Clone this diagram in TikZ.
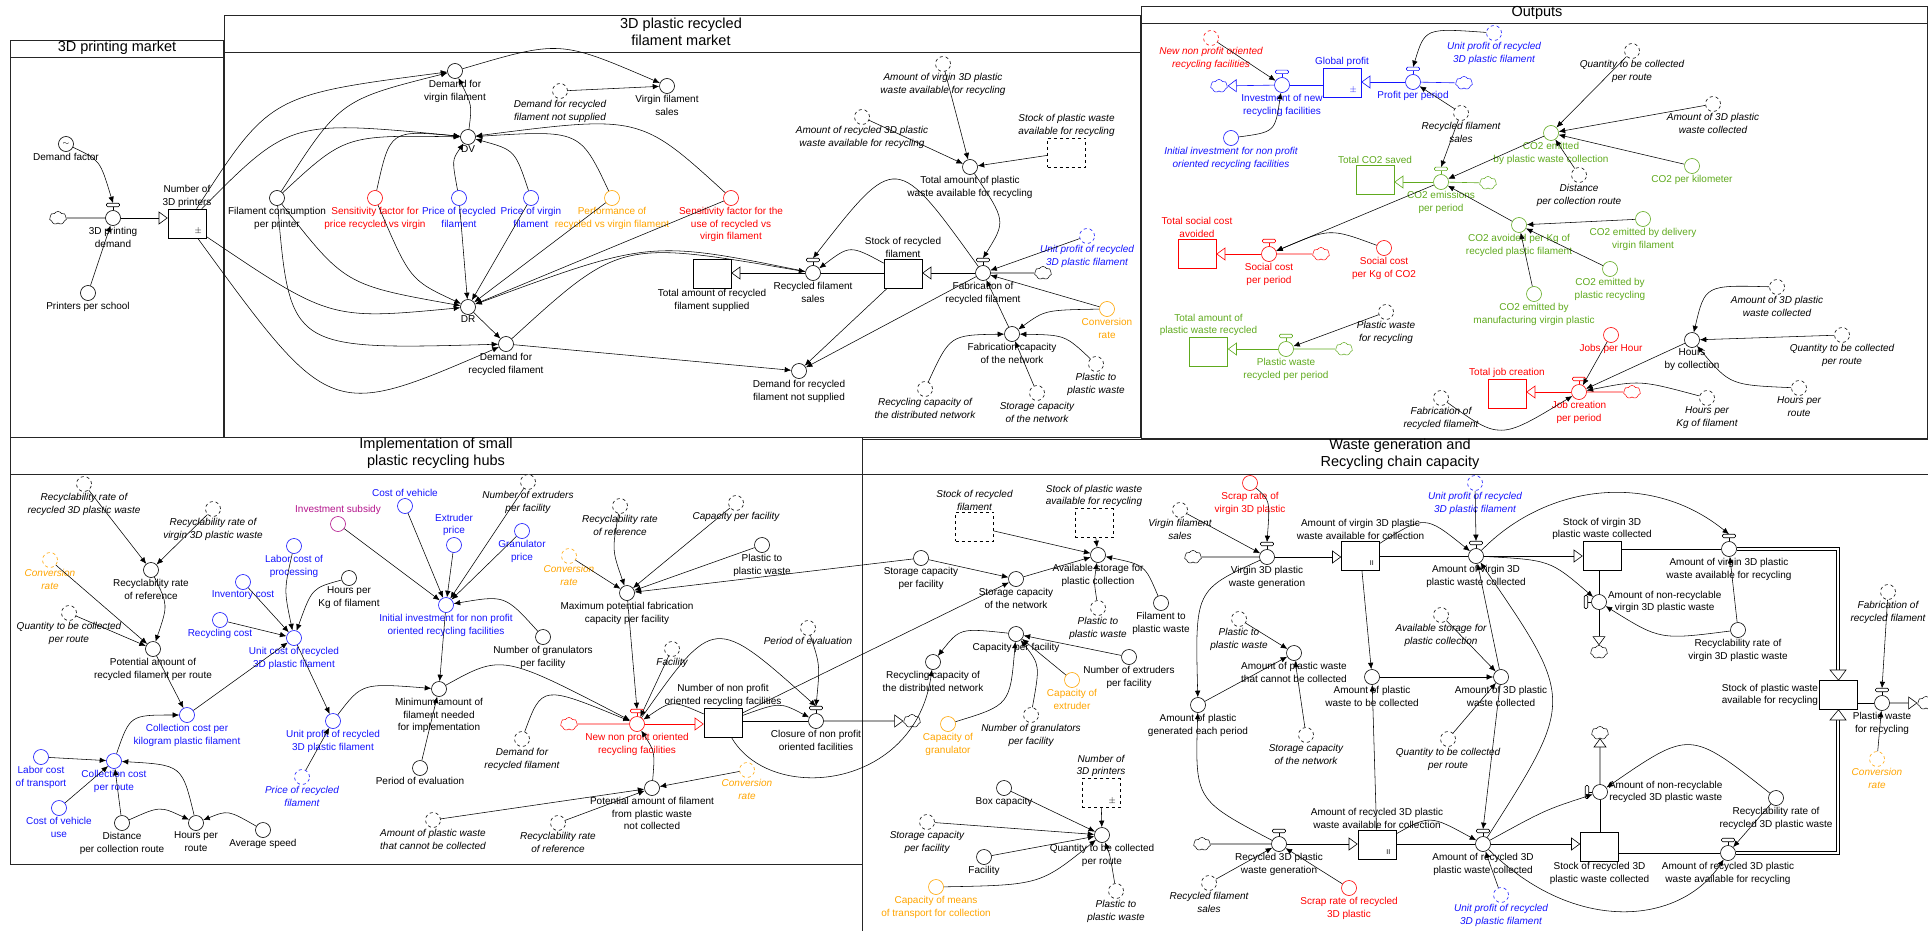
\documentclass[tikz,border=0pt]{standalone}
\usepackage{fontspec}
\setmainfont{Liberation Sans}
\usetikzlibrary{arrows.meta,shapes.symbols,calc}
\definecolor{myred}{RGB}{255,0,0}
\definecolor{myblue}{RGB}{20,20,255}
\definecolor{mygreen}{RGB}{96,170,30}
\definecolor{myorange}{RGB}{255,165,0}
\definecolor{mypurple}{RGB}{180,20,140}
\newcommand\lbl{\fontsize{10}{12.8}\selectfont}
\newcommand\ttl{\fontsize{14.5}{17.5}\selectfont}
\tikzset{
 aux/.style={circle,draw,minimum size=15pt,inner sep=0pt,line width=0.6pt,fill=white},
 lb/.style={align=center,font=\lbl,inner sep=1pt},
 lbi/.style={lb,font=\lbl\itshape},
 lk/.style={line width=0.55pt,-{Latex[length=6.5pt,width=5.5pt]}},
 pp/.style={line width=0.6pt,-{Triangle[length=9pt,width=13pt,fill=white]}},
 stk/.style={rectangle,draw,minimum width=38pt,minimum height=29pt,inner sep=0pt,line width=0.6pt,fill=white},
 cl/.style={cloud,cloud puffs=7,cloud puff arc=120,aspect=1.3,draw,minimum width=17pt,minimum height=13pt,inner sep=0pt,line width=0.5pt,fill=white},
 frame/.style={line width=0.8pt,draw=black!85}
}
\newcommand\VA[5]{\node[aux,draw=#1,label={[lb,text=#1]#5:{#4}}] (#2) at (#3) {};}
\newcommand\VG[5]{\node[aux,draw=#1,dashed,label={[lbi,text=#1]#5:{#4}}] (#2) at (#3) {};}
\newcommand\VV[5]{\node[aux,draw=#1,label={[lb,text=#1]#5:{#4}}] (#2) at (#3) {};
 \draw[#1,line width=0.6pt] (#2.north) -- ++(0,-3.5);
 \draw[#1,line width=0.6pt,fill=white,rounded corners=1.2pt] ($(#2.north)+(-6.5,-3.5)$) rectangle ($(#2.north)+(6.5,-7)$);
 \coordinate (#2t) at ($(#2.north)+(0,-7)$);}
\newcommand\VR[5]{\node[aux,draw=#1,label={[lb,text=#1]#5:{#4}}] (#2) at (#3) {};
 \draw[#1,line width=0.6pt] (#2.west) -- ++(-3.5,0);
 \draw[#1,line width=0.6pt,fill=white,rounded corners=1.2pt] ($(#2.west)+(-3.5,-6.5)$) rectangle ($(#2.west)+(-7,6.5)$);}
\newcommand\VS[5]{\node[stk,draw=#1,label={[lb,text=#1]#5:{#4}}] (#2) at (#3) {};}
\newcommand\VSG[5]{\node[stk,draw=#1,dashed,label={[lbi,text=#1]#5:{#4}}] (#2) at (#3) {};}
\newcommand\VC[3]{\node[cl,draw=#1] (#2) at (#3) {};}
\begin{document}
\begin{tikzpicture}[x=1pt,y=-1pt]
\fill[white] (0,0) rectangle (1928,931);
\useasboundingbox (0,0) rectangle (1928,931);
% ---------- frames ----------
\draw[frame] (10.7,40.7) rectangle (223,437); \draw[frame] (10.7,57.7) -- (223,57.7);
\node[font=\ttl] at (117,48) {3D printing market};
\draw[frame] (224,15.7) rectangle (1140,437); \draw[frame] (224,52) -- (1140,52);
\node[font=\ttl,align=center] at (681,32) {3D plastic recycled\\filament market};
\draw[frame] (1141,6) rectangle (1927,438); \draw[frame] (1141,23) -- (1927,23);
\node[font=\ttl] at (1537,13) {Outputs};
\draw[frame] (10.7,437.5) rectangle (862,864); \draw[frame] (10.7,474) -- (862,474);
\node[font=\ttl,align=center] at (436,453) {Implementation of small\\plastic recycling hubs};
\draw[frame] (862,931) -- (862,439) -- (1928,439); \draw[frame] (862,474) -- (1928,474);
\node[font=\ttl,align=center] at (1400,454) {Waste generation and\\Recycling chain capacity};
% ---------- Panel 1 ----------
\node[aux,label={[lb]below:Demand factor}] (df) at (66,144) {\fontsize{8}{8}\selectfont$\sim$};
\VC{black}{c1}{58,218}
\VV{black}{v1}{113,218}{3D printing\\demand}{below}
\VS{black}{s1}{187,223.5}{Number of\\3D printers}{above}
\node[font=\small] at ($(s1.south east)+(-8,-7)$) {$\pm$};
\VA{black}{pps}{88,293}{Printers per school}{below}
\draw[lk] (df) .. controls (100,160) .. (v1t);
\draw[lk] (pps) -- (v1);
\draw[line width=0.6pt] (c1) -- (v1); \draw[pp] (v1) -- (v1 -| s1.west);
% ---------- Panel 2 ----------
\VA{black}{dvf}{455,71}{Demand for\\virgin filament}{below}
\VA{black}{dv}{468,137}{DV}{below}
\VA{black}{dr}{468,307}{DR}{below}
\VA{black}{drf}{506,344}{Demand for\\recycled filament}{below}
\VG{black}{drns}{560,91}{Demand for recycled\\filament not supplied}{below}
\VA{black}{vfs}{667,86}{Virgin filament\\sales}{below}
\VA{black}{fcp}{277,198}{Filament consumption\\per printer}{below}
\VA{myred}{sfp}{375,198}{Sensitivity factor for\\price recycled vs virgin}{below}
\VA{myblue}{prf}{459,198}{Price of recycled\\filament}{below}
\VA{myblue}{pvf}{531,198}{Price of virgin\\filament}{below}
\VA{myorange}{perf}{612,198}{Performance of\\recycled vs virgin filament}{below}
\VA{myred}{sfu}{731,198}{Sensitivity factor for the\\use of recycled vs\\virgin filament}{below}
\VS{black}{tas}{712,273.5}{Total amount of recycled\\filament supplied}{below}
\VV{black}{rfs}{813,273}{Recycled filament\\sales}{below}
\VS{black}{sor}{903,273.5}{Stock of recycled\\filament}{above}
\VV{black}{fab}{983,273}{Fabrication of\\recycled filament}{below}
\VC{black}{c2}{1043,273}
\VA{black}{ta}{970,167}{Total amount of plastic\\waste available for recycling}{below}
\VG{black}{avw}{943,64}{Amount of virgin 3D plastic\\waste available for recycling}{below}
\VG{black}{arw}{862,117}{Amount of recycled 3D plastic\\waste available for recycling}{below}
\VSG{black}{spw}{1066.5,152.5}{Stock of plastic waste\\available for recycling}{above}
\VG{myblue}{up1}{1087,236}{Unit profit of recycled\\3D plastic filament}{below}
\VA{myorange}{cr1}{1107,309}{Conversion\\rate}{below}
\VA{black}{fcn}{1012,334}{Fabrication capacity\\of the network}{below}
\VG{black}{rcd}{925,389}{Recycling capacity of\\the distributed network}{below}
\VG{black}{scn}{1037,393}{Storage capacity\\of the network}{below}
\VG{black}{ppw1}{1096,364}{Plastic to\\plastic waste}{below}
\VA{black}{drns2}{799,371}{Demand for recycled\\filament not supplied}{below}
\draw[lk] (s1) .. controls (270,95) .. (dvf);
\draw[lk] (s1) .. controls (290,120) .. (dv);
\draw[lk] (s1) .. controls (330,320) .. (dr);
\draw[lk] (s1) .. controls (330,420) .. (drf);
\draw[lk] (fcp) .. controls (340,100) .. (dvf);
\draw[lk] (fcp) .. controls (345,135) .. (dv);
\draw[lk] (fcp) .. controls (345,285) .. (dr);
\draw[lk] (fcp) .. controls (290,350) .. (drf);
\draw[lk] (sfp) .. controls (390,130) .. (dv);
\draw[lk] (sfp) .. controls (410,280) .. (dr);
\draw[lk] (prf) .. controls (452,160) .. (dv);
\draw[lk] (prf) -- (dr);
\draw[lk] (pvf) .. controls (515,150) .. (dv);
\draw[lk] (pvf) -- (dr);
\draw[lk] (perf) .. controls (580,130) .. (dv);
\draw[lk] (perf) -- (dr);
\draw[lk] (sfu) .. controls (640,115) .. (dv);
\draw[lk] (sfu) -- (dr);
\draw[lk] (dv) .. controls (472,105) .. (dvf);
\draw[lk] (dr) -- (drf);
\draw[lk] (dvf) .. controls (560,40) .. (vfs);
\draw[lk] (drns) -- (vfs);
\draw[lk] (drf) .. controls (620,240) .. (rfs);
\draw[lk] (rfs) .. controls (650,240) .. (dr);
\draw[lk] (drf) -- (drns2);
\draw[lk] (sor) .. controls (850,245) .. (rfs);
\draw[lk] (fab) .. controls (896,152) .. (rfst);
\draw[lk] (sor) -- (drns2);
\draw[lk] (fab) -- (drns2);
\draw[lk] (ta) .. controls (1006,221) .. (fabt);
\draw[lk] (avw) -- (ta); \draw[lk] (arw) -- (ta); \draw[lk] (spw) -- (ta);
\draw[lk] (up1) -- (fab); \draw[lk] (cr1) -- (fab);
\draw[lk] (cr1) .. controls (1045,310) .. (fcn);
\draw[lk] (fcn) -- (fab);
\draw[lk] (rcd) .. controls (950,335) .. (fcn);
\draw[lk] (scn) -- (fcn);
\draw[lk] (ppw1) .. controls (1065,335) .. (fcn);
\draw[line width=0.6pt] (c2) -- (fab); \draw[pp] (fab) -- (fab -| sor.east);
\draw[line width=0.6pt] (sor.west |- rfs) -- (rfs); \draw[pp] (rfs) -- (rfs -| tas.east);
% ---------- Outputs ----------
\VG{myred}{nnp}{1211,38}{New non profit oriented\\recycling facilities}{below}
\VV{myblue}{inv}{1282,85}{Investment of new\\recycling facilities}{below}
\VC{myblue}{cb1}{1219,86}
\VS{myblue}{gp}{1342,82.5}{Global profit}{above}
\node[font=\small,text=myblue] at ($(gp.south east)+(-8,-7)$) {$\pm$};
\VV{myblue}{ppp}{1413,82}{Profit per period}{below}
\VC{myblue}{cb2}{1464,83}
\VG{myblue}{upo}{1494,33}{Unit profit of recycled\\3D plastic filament}{below}
\node[aux,draw=myblue,label={[lbi,text=myblue]below:{Initial investment for non profit\\oriented recycling facilities}}] (iio) at (1231,138) {};
\VG{black}{rfso}{1461,113}{Recycled filament\\sales}{below}
\VS{mygreen}{tco}{1375,179.5}{Total CO2 saved}{above}
\VV{mygreen}{co2}{1441,182}{CO2 emissions\\per period}{below}
\VC{mygreen}{cg1}{1488,183}
\VS{myred}{tsc}{1197,253.5}{Total social cost\\avoided}{above}
\VV{myred}{scp}{1269,254}{Social cost\\per period}{below}
\VC{myred}{cr1c}{1321,254}
\VA{myred}{sck}{1384,248}{Social cost\\per Kg of CO2}{below}
\VS{mygreen}{tpw}{1208.5,352}{Total amount of\\plastic waste recycled}{above}
\VV{mygreen}{pwr}{1286,349}{Plastic waste\\recycled per period}{below}
\VC{mygreen}{cg2}{1344,349}
\VG{black}{pwfr}{1386,312}{Plastic waste\\for recycling}{below}
\VS{myred}{tjc}{1507,393.5}{Total job creation}{above}
\VG{black}{fro}{1441,398}{Fabrication of\\recycled filament}{below}
\VA{mygreen}{ceco}{1551,133}{CO2 emitted\\by plastic waste collection}{below}
\VG{black}{qo1}{1632,51}{Quantity to be collected\\per route}{below}
\VG{black}{ao1}{1713,104}{Amount of 3D plastic\\waste collected}{below}
\VA{mygreen}{cpk}{1692,166}{CO2 per kilometer}{below}
\VG{black}{dco}{1579,175}{Distance\\per collection route}{below}
\VA{mygreen}{cav}{1519,225}{CO2 avoided per Kg of\\recycled plastic filament}{below}
\VA{mygreen}{ced}{1643,219}{CO2 emitted by delivery\\virgin filament}{below}
\VA{mygreen}{cer}{1610,269}{CO2 emitted by\\plastic recycling}{below}
\VA{mygreen}{cem}{1534,294}{CO2 emitted by\\manufacturing virgin plastic}{below}
\VA{myred}{jph}{1611,335}{Jobs per Hour}{below}
\VV{myred}{jcp}{1579,392}{Job creation\\per period}{below}
\VC{myred}{cr2c}{1632,392}
\VA{black}{hbc}{1692,340}{Hours\\by collection}{below}
\VG{black}{ao2}{1777,287}{Amount of 3D plastic\\waste collected}{below}
\VG{black}{qo2}{1842,335}{Quantity to be collected\\per route}{below}
\VG{black}{hpr}{1799,388}{Hours per\\route}{below}
\VG{black}{hpk}{1707,398}{Hours per\\Kg of filament}{below}
\draw[lk] (nnp) -- (inv);
\draw[lk] (iio) .. controls (1275,132) .. (inv);
\draw[lk] (upo) .. controls (1425,28) .. (pppt);
\draw[lk] (rfso) -- (ppp);
\draw[lk] (rfso) -- (co2t);
\draw[lk] (ceco) -- (co2);
\draw[lk] (cav) -- (co2);
\draw[lk] (co2) -- (scp);
\draw[lk] (sck) .. controls (1330,228) .. (scp);
\draw[lk] (pwfr) -- (pwr);
\draw[lk] (qo1) -- (ceco); \draw[lk] (ao1) -- (ceco); \draw[lk] (cpk) -- (ceco); \draw[lk] (dco) -- (ceco);
\draw[lk] (ced) -- (cav); \draw[lk] (cer) -- (cav); \draw[lk] (cem) -- (cav);
\draw[lk] (jph) -- (jcp); \draw[lk] (hbc) -- (jcp);
\draw[lk] (hpk) .. controls (1640,380) .. (jcp);
\draw[lk] (fro) .. controls (1500,440) .. (jcp);
\draw[lk] (ao2) .. controls (1705,285) .. (hbc);
\draw[lk] (qo2) -- (hbc);
\draw[lk] (hpr) .. controls (1730,385) .. (hbc);
\draw[myblue,line width=0.6pt] (cb2) -- (ppp); \draw[pp,draw=myblue] (ppp) -- (ppp -| gp.east);
\draw[myblue,line width=0.6pt] (gp.west |- inv) -- (inv); \draw[pp,draw=myblue] (inv) -- (cb1);
\draw[mygreen,line width=0.6pt] (cg1) -- (co2); \draw[pp,draw=mygreen] (co2) -- (co2 -| tco.east);
\draw[myred,line width=0.6pt] (cr1c) -- (scp); \draw[pp,draw=myred] (scp) -- (scp -| tsc.east);
\draw[mygreen,line width=0.6pt] (cg2) -- (pwr); \draw[pp,draw=mygreen] (pwr) -- (pwr -| tpw.east);
\draw[myred,line width=0.6pt] (cr2c) -- (jcp); \draw[pp,draw=myred] (jcp) -- (jcp -| tjc.east);
% ---------- Implementation ----------
\VG{black}{rr1}{84,484}{Recyclability rate of\\recycled 3D plastic waste}{below}
\VG{black}{rv1}{213,509}{Recyclability rate of\\virgin 3D plastic waste}{below}
\VG{myorange}{ci1}{50,560}{Conversion\\rate}{below}
\VA{black}{rref}{151,570}{Recyclability rate\\of reference}{below}
\VG{black}{qi1}{69,613}{Quantity to be collected\\per route}{below}
\VA{black}{pap}{153,649}{Potential amount of\\recycled filament per route}{below}
\VA{myblue}{cck}{187,715}{Collection cost per\\kilogram plastic filament}{below}
\VA{myblue}{lct}{41,757}{Labor cost\\of transport}{below}
\VA{myblue}{ccr}{114,761}{Collection cost\\per route}{below}
\VA{myblue}{cvu}{59,808}{Cost of vehicle\\use}{below}
\VA{black}{dis}{122,823}{Distance\\per collection route}{below}
\VA{black}{hpri}{196,823}{Hours per\\route}{below}
\VA{black}{avs}{263,830}{Average speed}{below}
\VA{myblue}{rcc}{220,620}{Recycling cost}{below}
\VA{myblue}{inc}{243,582}{Inventory cost}{below}
\VA{myblue}{lcp}{294,546}{Labor cost of\\processing}{below}
\VA{black}{hpk2}{349,578}{Hours per\\Kg of filament}{below}
\VA{myblue}{ucr}{294,638}{Unit cost of recycled\\3D plastic filament}{below}
\VA{myblue}{upr}{333,721}{Unit profit of recycled\\3D plastic filament}{below}
\VG{myblue}{prf2}{302,777}{Price of recycled\\filament}{below}
\VA{mypurple}{isub}{338,524}{Investment subsidy}{above}
\VA{myblue}{cov}{405,506}{Cost of vehicle}{above}
\VA{myblue}{exp}{454,545}{Extruder\\price}{above}
\VG{black}{nef}{528,482}{Number of extruders\\per facility}{below}
\VA{myblue}{grp}{522,531}{Granulator\\price}{below}
\VA{myblue}{iin}{446,605}{Initial investment for non profit\\oriented recycling facilities}{below}
\VA{black}{ngf}{543,637}{Number of granulators\\per facility}{below}
\VA{black}{mam}{439,689}{Minimum amount of\\filament needed\\for implementation}{below}
\VA{black}{pev}{420,768}{Period of evaluation}{below}
\VG{black}{apw}{433,820}{Amount of plastic waste\\that cannot be collected}{below}
\VG{black}{dfr}{522,739}{Demand for\\recycled filament}{below}
\VG{black}{rref2}{620,506}{Recyclability rate\\of reference}{below}
\VG{myorange}{ci2}{569,556}{Conversion\\rate}{below}
\VG{black}{cpf}{736,503}{Capacity per facility}{below}
\VA{black}{ptp}{762,545}{Plastic to\\plastic waste}{below}
\VA{black}{mpf}{627,593}{Maximum potential fabrication\\capacity per facility}{below}
\VG{black}{fac}{672,649}{Facility}{below}
\VG{black}{pev2}{808,628}{Period of evaluation}{below}
\VV{myred}{nnv}{637,724}{New non profit oriented\\recycling facilities}{below}
\VC{myred}{cr3c}{569,724}
\VS{black}{nnf}{723,722.5}{Number of non profit\\oriented recycling facilities}{above}
\VV{black}{cls}{816,721}{Closure of non profit\\oriented facilities}{below}
\VA{black}{pfn}{652,788}{Potential amount of filament\\from plastic waste\\not collected}{below}
\VG{myorange}{ci3}{747,770}{Conversion\\rate}{below}
\VG{black}{rref3}{558,823}{Recyclability rate\\of reference}{below}
\draw[lk] (rr1) -- (rref); \draw[lk] (rv1) -- (rref);
\draw[lk] (ci1) -- (pap); \draw[lk] (qi1) -- (pap);
\draw[lk] (rref) .. controls (168,605) .. (pap);
\draw[lk] (pap) -- (cck);
\draw[lk] (ccr) .. controls (130,715) .. (cck);
\draw[lk] (lct) -- (ccr); \draw[lk] (cvu) -- (ccr); \draw[lk] (dis) -- (ccr);
\draw[lk] (hpri) .. controls (182,765) .. (ccr);
\draw[lk] (dis) .. controls (160,806) .. (hpri);
\draw[lk] (avs) .. controls (228,810) .. (hpri);
\draw[lk] (cck) -- (ucr); \draw[lk] (rcc) -- (ucr); \draw[lk] (inc) -- (ucr);
\draw[lk] (lcp) .. controls (284,590) .. (ucr);
\draw[lk] (hpk2) .. controls (312,588) .. (ucr);
\draw[lk] (ucr) -- (upr); \draw[lk] (prf2) -- (upr);
\draw[lk] (upr) .. controls (362,683) .. (mam);
\draw[lk] (isub) -- (iin); \draw[lk] (cov) -- (iin); \draw[lk] (exp) -- (iin); \draw[lk] (nef) -- (iin); \draw[lk] (grp) -- (iin);
\draw[lk] (ngf) .. controls (505,595) .. (iin);
\draw[lk] (iin) -- (mam); \draw[lk] (pev) -- (mam);
\draw[lk] (mam) .. controls (502,654) .. (nnv);
\draw[lk] (dfr) .. controls (542,685) .. (nnv);
\draw[lk] (mpf) -- (nnvt);
\draw[lk] (fac) -- (nnv);
\draw[lk] (nnf) .. controls (672,700) .. (nnv);
\draw[lk] (pfn) .. controls (655,752) .. (nnv);
\draw[lk] (apw) -- (pfn); \draw[lk] (rref3) -- (pfn); \draw[lk] (ci3) -- (pfn);
\draw[lk] (rref2) .. controls (612,550) .. (mpf);
\draw[lk] (ci2) -- (mpf); \draw[lk] (cpf) -- (mpf); \draw[lk] (ptp) -- (mpf);
\draw[lk] (nnv) .. controls (714,615) .. (clst);
\draw[lk] (nnf) .. controls (780,702) .. (cls);
\draw[lk] (pev2) .. controls (820,665) .. (clst);
% ---------- Waste generation ----------
\VSG{black}{srf}{974.5,526.5}{Stock of recycled\\filament}{above}
\VSG{black}{spw2}{1094,523}{Stock of plastic waste\\available for recycling}{above}
\VA{black}{asp}{1098,555}{Available storage for\\plastic collection}{below}
\VA{black}{spf}{921,558}{Storage capacity\\per facility}{below}
\VA{black}{scn2}{1016,579}{Storage capacity\\of the network}{below}
\VG{black}{ppw2}{1098,608}{Plastic to\\plastic waste}{below}
\VA{black}{ftp}{1161,603}{Filament to\\plastic waste}{below}
\VA{black}{cpf2}{1016,634}{Capacity per facility}{below}
\VA{black}{rcd2}{933,662}{Recycling capacity of\\the distributed network}{below}
\VA{black}{nef2}{1129,657}{Number of extruders\\per facility}{below}
\VA{myorange}{cex}{1072,680}{Capacity of\\extruder}{below}
\VG{black}{ngf2}{1031,715}{Number of granulators\\per facility}{below}
\VA{myorange}{cgr}{948,724}{Capacity of\\granulator}{below}
\VC{black}{clw}{912,721}
\VSG{black}{np3}{1101,793}{Number of\\3D printers}{above}
\node[font=\small] at ($(np3.south east)+(-8,-7)$) {$\pm$};
\VA{black}{box}{1004,788}{Box capacity}{below}
\VG{black}{spf2}{927,822}{Storage capacity\\per facility}{below}
\VA{black}{fac2}{984,857}{Facility}{below}
\VA{myorange}{cmt}{936,887}{Capacity of means\\of transport for collection}{below}
\VA{black}{qtc}{1102,835}{Quantity to be collected\\per route}{below}
\VG{black}{ppw3}{1116,891}{Plastic to\\plastic waste}{below}
\VA{myred}{srv}{1250,483}{Scrap rate of\\virgin 3D plastic}{below}
\VG{black}{vfs2}{1180,510}{Virgin filament\\sales}{below}
\VC{black}{cw2}{1193,557}
\VV{black}{vgen}{1267,557}{Virgin 3D plastic\\waste generation}{below}
\VS{black}{sva}{1360.5,555.5}{Amount of virgin 3D plastic\\waste available for collection}{above}
\node[font=\scriptsize] at ($(sva.south east)+(-8,-7)$) {II};
\VG{myblue}{up2}{1475,483}{Unit profit of recycled\\3D plastic filament}{below}
\VV{black}{vcol}{1476,556}{Amount of virgin 3D\\plastic waste collected}{below}
\VG{black}{ppw4}{1239,619}{Plastic to\\plastic waste}{below}
\VA{black}{apc}{1294,653}{Amount of plastic waste\\that cannot be collected}{below}
\VA{black}{age}{1198,705}{Amount of plastic\\generated each period}{below}
\VG{black}{scn3}{1306,735}{Storage capacity\\of the network}{below}
\VA{black}{atc}{1372,677}{Amount of plastic\\waste to be collected}{below}
\VG{black}{asp2}{1441,615}{Available storage for\\plastic collection}{below}
\VA{black}{a3c}{1501,677}{Amount of 3D plastic\\waste collected}{below}
\VG{black}{qtc2}{1448,739}{Quantity to be collected\\per route}{below}
\VS{black}{sra}{1377,844.5}{Amount of recycled 3D plastic\\waste available for collection}{above}
\node[font=\scriptsize] at ($(sra.south east)+(-8,-7)$) {II};
\VV{black}{rgen}{1279,844}{Recycled 3D plastic\\waste generation}{below}
\VC{black}{cw3}{1202,844}
\VG{black}{rfs3}{1209,883}{Recycled filament\\sales}{below}
\VA{myred}{srr}{1349,888}{Scrap rate of recycled\\3D plastic}{below}
\VV{black}{rcol}{1483,844}{Amount of recycled 3D\\plastic waste collected}{below}
\VG{myblue}{up3}{1501,895}{Unit profit of recycled\\3D plastic filament}{below}
\VS{black}{svc}{1602,556}{Stock of virgin 3D\\plastic waste collected}{above}
\VV{black}{vavr}{1729,549}{Amount of virgin 3D plastic\\waste available for recycling}{below}
\VR{black}{nrv}{1599,602}{Amount of non-recyclable\\virgin 3D plastic waste}{right}
\VC{black}{cw4}{1599,652}
\VA{black}{rrv}{1738,630}{Recyclability rate of\\virgin 3D plastic waste}{below}
\VS{black}{spw3}{1838.5,695}{Stock of plastic waste\\available for recycling}{left}
\VV{black}{pwfr2}{1882,703}{Plastic waste\\for recycling}{below}
\VC{black}{cw5}{1926,703}
\VG{black}{fro2}{1888,592}{Fabrication of\\recycled filament}{below}
\VG{myorange}{cr4}{1877,759}{Conversion\\rate}{below}
\VR{black}{nrr}{1600,792}{Amount of non-recyclable\\recycled 3D plastic waste}{right}
\VC{black}{cw6}{1600,733}
\VA{black}{rrr}{1776,798}{Recyclability rate of\\recycled 3D plastic waste}{below}
\VS{black}{src}{1599.5,846.5}{Stock of recycled 3D\\plastic waste collected}{below}
\VV{black}{ravr}{1728,853}{Amount of recycled 3D plastic\\waste available for recycling}{below}
% implementation pipes and cross-panel links
\draw[myred,line width=0.6pt] (cr3c) -- (nnv); \draw[pp,draw=myred] (nnv) -- (nnv -| nnf.west);
\draw[line width=0.6pt] (nnf.east |- cls) -- (cls); \draw[pp] (cls) -- (clw);
\draw[lk] (nnf) -- (scn2);
\draw[lk] (nnf) .. controls (770,805) and (915,790) .. (rcd2);
\draw[lk] (spf) -- (mpf);
% waste links
\draw[lk] (srf) -- (asp); \draw[lk] (spw2) -- (asp); \draw[lk] (scn2) -- (asp); \draw[lk] (spf) -- (scn2);
\draw[lk] (ppw2) .. controls (1094,582) .. (asp);
\draw[lk] (ftp) .. controls (1145,565) .. (asp);
\draw[lk] (cpf2) .. controls (960,628) .. (rcd2);
\draw[lk] (nef2) -- (cpf2); \draw[lk] (cex) -- (cpf2);
\draw[lk] (ngf2) .. controls (1040,665) .. (cpf2);
\draw[lk] (cgr) .. controls (1010,705) .. (cpf2);
\draw[lk] (box) -- (qtc); \draw[lk] (spf2) -- (qtc); \draw[lk] (fac2) -- (qtc);
\draw[lk] (cmt) .. controls (1040,885) .. (qtc);
\draw[lk] (np3) -- (qtc);
\draw[lk] (ppw3) .. controls (1110,855) .. (qtc);
\draw[lk] (srv) .. controls (1270,500) .. (vgent);
\draw[lk] (vfs2) -- (vgen);
\draw[lk] (vgen) .. controls (1195,590) .. (age);
\draw[lk] (rgen) .. controls (1195,800) .. (age);
\draw[lk] (age) -- (apc); \draw[lk] (ppw4) -- (apc); \draw[lk] (scn3) -- (apc);
\draw[lk] (sva) -- (atc); \draw[lk] (sra) -- (atc);
\draw[lk] (atc) -- (a3c);
\draw[lk] (asp2) -- (a3c); \draw[lk] (qtc2) -- (a3c);
\draw[lk] (a3c) -- (vcol); \draw[lk] (a3c) -- (rcolt);
\draw[lk] (up2) -- (vcolt);
\draw[lk] (up3) .. controls (1492,870) .. (rcol);
\draw[lk] (rfs3) -- (rgen); \draw[lk] (srr) -- (rgen);
\draw[lk] (sva) .. controls (1425,515) .. (vcol);
\draw[lk] (sra) .. controls (1430,815) .. (rcol);
\draw[lk] (rcol) .. controls (1575,700) .. (vcol);
\draw[lk] (vcol) .. controls (1545,485) and (1650,470) .. (vavrt);
\draw[lk] (vcol) .. controls (1550,560) .. (nrv);
\draw[lk] (rcol) .. controls (1545,810) .. (nrr);
\draw[lk] (rcol) .. controls (1575,935) and (1680,925) .. (ravr);
\draw[lk] (rrv) -- (vavr);
\draw[lk] (rrv) .. controls (1660,640) .. (nrv);
\draw[lk] (rrr) -- (ravr);
\draw[lk] (rrr) .. controls (1690,730) .. (nrr);
\draw[lk] (fro2) -- (pwfr2t); \draw[lk] (cr4) -- (pwfr2);
% waste pipes
\draw[line width=0.6pt] (cw2) -- (vgen); \draw[pp] (vgen) -- (vgen -| sva.west);
\draw[line width=0.6pt] (sva.east |- vcol) -- (vcol); \draw[pp] (vcol) -- (vcol -| svc.west);
\draw[line width=0.6pt] (svc.east |- vavr) -- (vavr);
\draw[line width=0.6pt] (svc.south -| nrv) -- (nrv); \draw[pp] (nrv) -- (cw4);
\draw[line width=0.6pt] (cw3) -- (rgen); \draw[pp] (rgen) -- (rgen -| sra.west);
\draw[line width=0.6pt] (sra.east |- rcol) -- (rcol); \draw[pp] (rcol) -- (rcol -| src.west);
\draw[line width=0.6pt] (src.east |- ravr) -- (ravr);
\draw[line width=0.6pt] (src.north -| nrr) -- (nrr); \draw[pp] (nrr) -- (cw6);
\coordinate (dj1) at (1838,549); \coordinate (dj2) at (1838,853);
\draw[double,double distance=2.2pt,line width=0.6pt] (vavr) -- (dj1) -- (1838,670);
\draw[line width=0.6pt,fill=white] (1830,670) -- (1846,670) -- (spw3.north) -- cycle;
\draw[double,double distance=2.2pt,line width=0.6pt] (ravr) -- (dj2) -- (1838,720);
\draw[line width=0.6pt,fill=white] (1830,720) -- (1846,720) -- (spw3.south) -- cycle;
\draw[line width=0.6pt] (spw3.east |- pwfr2) -- (pwfr2); \draw[pp] (pwfr2) -- (cw5);
\end{tikzpicture}
\end{document}
